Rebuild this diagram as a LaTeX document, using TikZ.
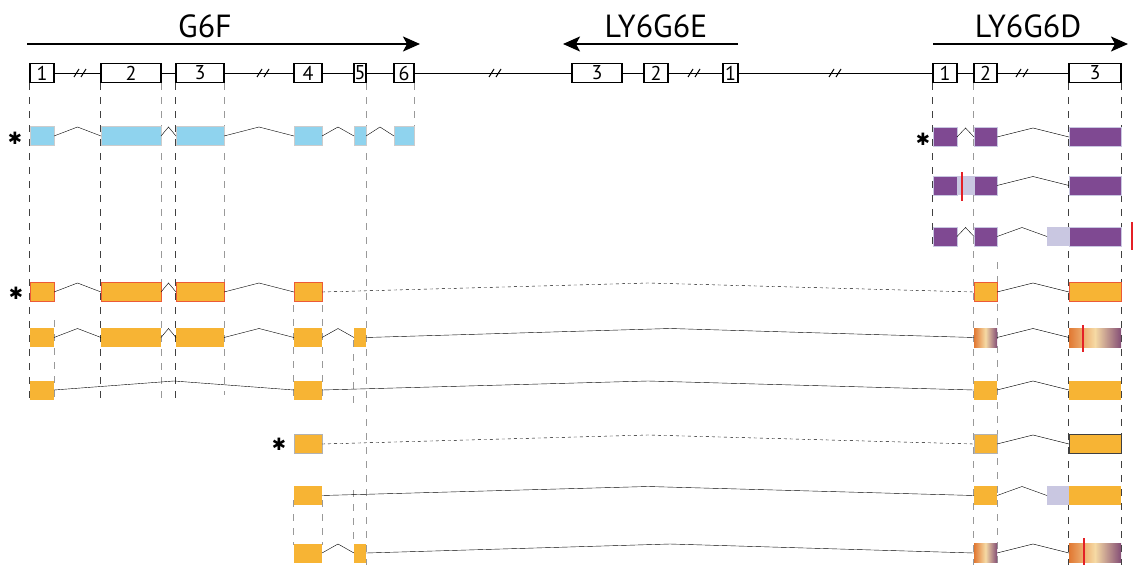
\documentclass[tikz,border=0pt]{standalone}
\usepackage{fontspec}
\setmainfont{PT Sans}
\newfontfamily\starfont{DejaVu Sans}
\usetikzlibrary{arrows.meta,calc}

\definecolor{exonblue}{RGB}{143,211,238}
\definecolor{exonpurple}{RGB}{127,73,146}
\definecolor{exonlav}{RGB}{201,199,225}
\definecolor{exonorange}{RGB}{247,180,52}
\definecolor{edgered}{RGB}{236,90,55}
\definecolor{stopred}{RGB}{228,32,38}
\definecolor{gradl}{RGB}{225,120,50}
\definecolor{gradm}{RGB}{246,218,164}
\definecolor{gradr}{RGB}{132,78,118}

\begin{document}
\begin{tikzpicture}[x=1pt,y=-1pt,
    genearrow/.style={line width=2pt,-{Stealth[length=17pt,width=15pt,inset=4pt]}},
    genename/.style={font=\fontsize{32}{32}\selectfont},
    genome/.style={line width=1pt},
    exonbox/.style={draw,line width=1.3pt,fill=white,minimum height=19pt,inner sep=0pt,font=\fontsize{20}{20}\selectfont},
    exon/.style={minimum height=19pt,inner sep=0pt,outer sep=0pt},
    bex/.style={exon,fill=exonblue,draw=black!20,line width=0.4pt},
    pex/.style={exon,fill=exonpurple,draw=exonlav,line width=0.4pt},
    lex/.style={exon,fill=exonlav},
    oex/.style={exon,fill=exonorange},
    oexr/.style={oex,draw=edgered,line width=0.8pt},
    gex/.style={exon,left color=gradl,right color=gradr,middle color=gradm},
    stopbar/.style={fill=stopred,minimum width=2.6pt,minimum height=28pt,inner sep=0pt},
    guide/.style={black!75,line width=1pt,dash pattern=on 7pt off 7pt},
    guidel/.style={guide,black!40},
    intron/.style={black!65,line width=0.7pt,to path={-- ($(\tikztostart)!0.5!(\tikztotarget)+(0,-9)$) -- (\tikztotarget)}},
    star/.style={font=\starfont\fontsize{17}{17}\selectfont,inner sep=0pt},
    gapmark/.pic={\draw[line width=1pt] (-6,4) -- (-1,-4); \draw[line width=1pt] (1,4) -- (6,-4);},
    wg1/.style={minimum width=24pt}, wg2/.style={minimum width=60pt}, wg3/.style={minimum width=48pt},
    wg4/.style={minimum width=28pt}, wg5/.style={minimum width=12pt}, wg6/.style={minimum width=20pt},
    we1/.style={minimum width=15pt}, we2/.style={minimum width=24pt}, we3/.style={minimum width=50pt},
    wd1/.style={minimum width=24pt}, wd2/.style={minimum width=23pt}, wd3/.style={minimum width=52pt}]
            \useasboundingbox (0,0) rectangle (1140,565);

            % gene names and strands
            \coordinate (g6fl) at (27,44);
            \coordinate (g6fr) at (420,44);
            \coordinate (ly6el) at (738,44);
            \coordinate (ly6er) at (563,44);
            \coordinate (ly6dl) at (933,44);
            \coordinate (ly6dr) at (1128,44);
            \draw[genearrow] (g6fl) -- (g6fr);
            \draw[genearrow] (ly6el) -- (ly6er);
            \draw[genearrow] (ly6dl) -- (ly6dr);
            \node[genename] (g6fname) at (205,26) {G6F};
            \node[genename] (ly6ename) at (656,26) {LY6G6E};
            \node[genename] (ly6dname) at (1028,26) {LY6G6D};

            % genomic exons
            \node[exonbox,wg1] (g1) at (42,73) {1};
            \node[exonbox,wg2] (g2) at (131,73) {2};
            \node[exonbox,wg3] (g3) at (200,73) {3};
            \node[exonbox,wg4] (g4) at (308,73) {4};
            \node[exonbox,wg5] (g5) at (360,73) {5};
            \node[exonbox,wg6] (g6) at (404,73) {6};
            \node[exonbox,we3] (e3) at (597,73) {3};
            \node[exonbox,we2] (e2) at (656,73) {2};
            \node[exonbox,we1] (e1) at (730.5,73) {1};
            \node[exonbox,wd1] (d1) at (945,73) {1};
            \node[exonbox,wd2] (d2) at (985.5,73) {2};
            \node[exonbox,wd3] (d3) at (1095,73) {3};
            \draw[genome] (g1) -- (g2) -- (g3) -- (g4) -- (g5) -- (g6) -- (e3) -- (e2) -- (e1) -- (d1) -- (d2) -- (d3);
            \pic at (80,73) {gapmark};
            \pic at (263,73) {gapmark};
            \pic at (495,73) {gapmark};
            \pic at (694,73) {gapmark};
            \pic at (835,73) {gapmark};
            \pic at (1022,73) {gapmark};

            % guides
            \draw[guide] (g1.south west) -- (g1.west |- 0,400);
            \draw[guidel] (g1.east |- 0,320) -- (g1.east |- 0,400);
            \draw[guide] (g2.south west) -- (g2.west |- 0,405);
            \draw[guidel] (g2.south east) -- (g2.east |- 0,405);
            \draw[guide] (g3.south west) -- (g3.west |- 0,405);
            \draw[guidel] (g3.south east) -- (g3.east |- 0,395);
            \draw[guidel] (g4.west |- 0,305) -- (g4.west |- 0,400);
            \draw[guidel] (g4.east |- 0,305) -- (g4.east |- 0,400);
            \draw[guidel] (g4.west |- 0,500) -- (g4.west |- 0,545);
            \draw[guidel] (g4.east |- 0,500) -- (g4.east |- 0,545);
            \draw[guidel] (g5.west |- 0,340) -- (g5.west |- 0,410);
            \draw[guidel] (g5.west |- 0,490) -- (g5.west |- 0,545);
            \draw[guidel] (g5.south east) -- (g5.east |- 0,565);
            \draw[guidel] (g6.south east) -- (g6.east |- 0,150);
            \draw[guide] (d1.south west) -- (d1.west |- 0,250);
            \draw[guidel] (d2.south west) -- (d2.west |- 0,565);
            \draw[guidel] (d2.east |- 0,262) -- (d2.east |- 0,565);
            \draw[guide] (d3.south west) -- (d3.west |- 0,565);
            \draw[guide] (d3.south east) -- (d3.east |- 0,565);

            % G6F transcript
            \node[star] (r1star) at (15,138) {✱};
            \node[bex,wg1] (r1g1) at (g1 |- 0,136) {};
            \node[bex,wg2] (r1g2) at (g2 |- 0,136) {};
            \node[bex,wg3] (r1g3) at (g3 |- 0,136) {};
            \node[bex,wg4] (r1g4) at (g4 |- 0,136) {};
            \node[bex,wg5] (r1g5) at (g5 |- 0,136) {};
            \node[bex,wg6] (r1g6) at (g6 |- 0,136) {};
            \draw (r1g1.east) to[intron] (r1g2.west);
            \draw (r1g2.east) to[intron] (r1g3.west);
            \draw (r1g3.east) to[intron] (r1g4.west);
            \draw (r1g4.east) to[intron] (r1g5.west);
            \draw (r1g5.east) to[intron] (r1g6.west);

            % LY6G6D transcripts
            \node[star] (r2star) at (923,139) {✱};
            \node[pex,wd1] (r2d1) at (d1 |- 0,137) {};
            \node[pex,wd2] (r2d2) at (d2 |- 0,137) {};
            \node[pex,wd3] (r2d3) at (d3 |- 0,137) {};
            \draw (r2d1.east) to[intron] (r2d2.west);
            \draw (r2d2.east) to[intron] (r2d3.west);

            \node[pex,wd1] (r3d1) at (d1 |- 0,185.5) {};
            \node[lex,minimum width=17pt] (r3ri) at (965.5,185.5) {};
            \node[pex,wd2] (r3d2) at (d2 |- 0,185.5) {};
            \node[pex,wd3] (r3d3) at (d3 |- 0,185.5) {};
            \node[stopbar,minimum height=29pt] (r3stop) at (962,186.5) {};
            \draw (r3d2.east) to[intron] (r3d3.west);

            \node[pex,wd1] (r4d1) at (d1 |- 0,236.5) {};
            \node[pex,wd2] (r4d2) at (d2 |- 0,236.5) {};
            \node[lex,minimum width=22pt] (r4ri) at (1058,236.5) {};
            \node[pex,wd3] (r4d3) at (d3 |- 0,236.5) {};
            \node[stopbar] (r4stop) at (1132,236) {};
            \draw (r4d1.east) to[intron] (r4d2.west);
            \draw (r4d2.east) to[intron] (r4ri.west);

            % G6F-LY6G6D read-through transcripts
            \node[star] (r5star) at (16,293.5) {✱};
            \node[oexr,wg1] (r5g1) at (g1 |- 0,292) {};
            \node[oexr,wg2] (r5g2) at (g2 |- 0,292) {};
            \node[oexr,wg3] (r5g3) at (g3 |- 0,292) {};
            \node[oexr,wg4] (r5g4) at (g4 |- 0,292) {};
            \node[oexr,wd2] (r5d2) at (d2 |- 0,292) {};
            \node[oexr,wd3] (r5d3) at (d3 |- 0,292) {};
            \draw (r5g1.east) to[intron] (r5g2.west);
            \draw (r5g2.east) to[intron] (r5g3.west);
            \draw (r5g3.east) to[intron] (r5g4.west);
            \draw[dashed] (r5g4.east) to[intron] (r5d2.west);
            \draw (r5d2.east) to[intron] (r5d3.west);

            \node[oex,wg1] (r6g1) at (g1 |- 0,337.5) {};
            \node[oex,wg2] (r6g2) at (g2 |- 0,337.5) {};
            \node[oex,wg3] (r6g3) at (g3 |- 0,337.5) {};
            \node[oex,wg4] (r6g4) at (g4 |- 0,337.5) {};
            \node[oex,wg5] (r6g5) at (g5 |- 0,337.5) {};
            \node[gex,wd2] (r6d2) at (d2 |- 0,337.5) {};
            \node[gex,wd3] (r6d3) at (d3 |- 0,337.5) {};
            \node[stopbar,minimum height=27pt] (r6stop) at (1083,338.5) {};
            \draw (r6g1.east) to[intron] (r6g2.west);
            \draw (r6g2.east) to[intron] (r6g3.west);
            \draw (r6g3.east) to[intron] (r6g4.west);
            \draw (r6g4.east) to[intron] (r6g5.west);
            \draw (r6g5.east) to[intron] (r6d2.west);
            \draw (r6d2.east) to[intron] (r6d3.west);

            \node[oex,wg1] (r7g1) at (g1 |- 0,390) {};
            \node[oex,wg4] (r7g4) at (g4 |- 0,390) {};
            \node[oex,wd2] (r7d2) at (d2 |- 0,390) {};
            \node[oex,wd3] (r7d3) at (d3 |- 0,390) {};
            \draw (r7g1.east) to[intron] (r7g4.west);
            \draw (r7g4.east) to[intron] (r7d2.west);
            \draw (r7d2.east) to[intron] (r7d3.west);

            \node[star] (r8star) at (279,444) {✱};
            \node[oex,wg4,draw=black!30,line width=0.4pt] (r8g4) at (g4 |- 0,444) {};
            \node[oex,wd2,draw=black!30,line width=0.4pt] (r8d2) at (d2 |- 0,444) {};
            \node[oex,wd3,draw=black!75,line width=0.6pt] (r8d3) at (d3 |- 0,444) {};
            \draw[dashed] (r8g4.east) to[intron] (r8d2.west);
            \draw (r8d2.east) to[intron] (r8d3.west);

            \node[oex,wg4] (r9g4) at (g4 |- 0,495.5) {};
            \node[oex,wd2] (r9d2) at (d2 |- 0,495.5) {};
            \node[lex,minimum width=22pt] (r9ri) at (1058,495.5) {};
            \node[oex,wd3] (r9d3) at (d3 |- 0,495.5) {};
            \draw (r9g4.east) to[intron] (r9d2.west);
            \draw (r9d2.east) to[intron] (r9ri.west);

            \node[oex,wg4] (r10g4) at (g4 |- 0,553) {};
            \node[oex,wg5] (r10g5) at (g5 |- 0,553) {};
            \node[gex,wd2] (r10d2) at (d2 |- 0,553) {};
            \node[gex,wd3] (r10d3) at (d3 |- 0,553) {};
            \node[stopbar,minimum height=27pt] (r10stop) at (1084,551.5) {};
            \draw (r10g4.east) to[intron] (r10g5.west);
            \draw (r10g5.east) to[intron] (r10d2.west);
            \draw (r10d2.east) to[intron] (r10d3.west);
        \end{tikzpicture}
\end{document}
